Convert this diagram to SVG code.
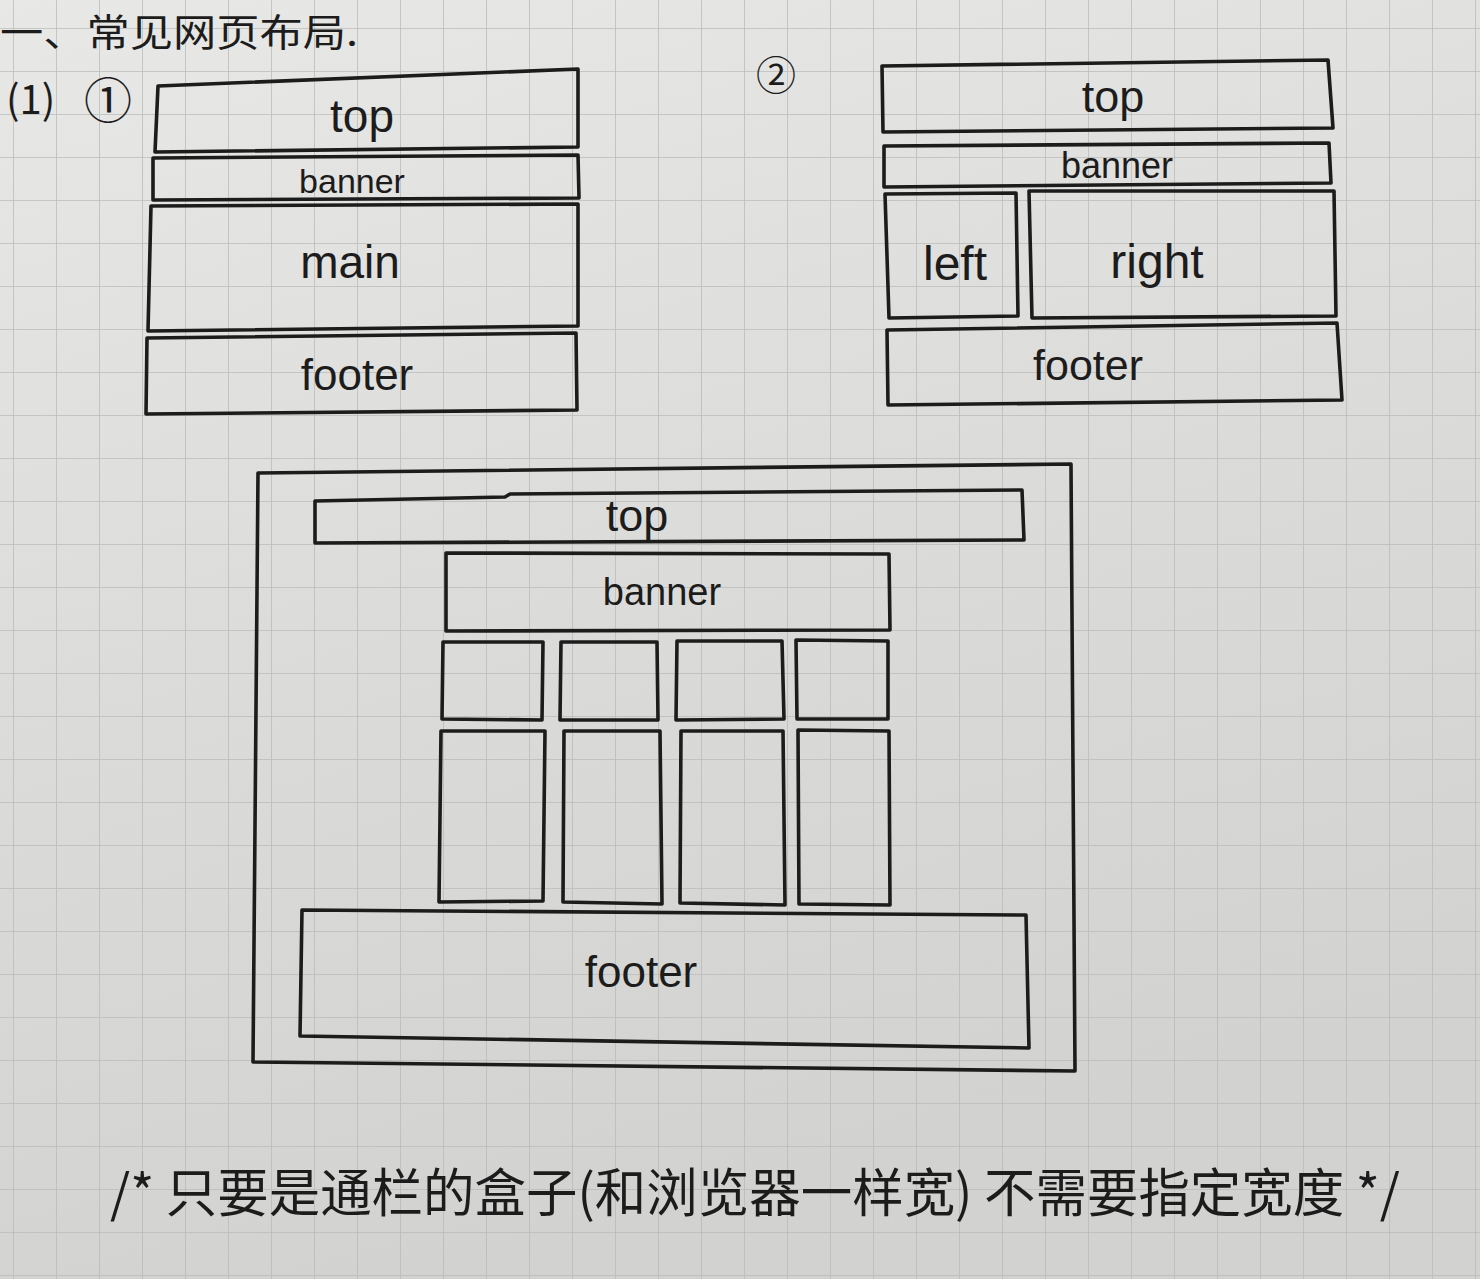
<svg xmlns="http://www.w3.org/2000/svg" width="1480" height="1279" viewBox="0 0 1480 1279">
<defs>
<linearGradient id="paper" x1="0" y1="0" x2="0.3" y2="1">
<stop offset="0" stop-color="#e8e8e6"/>
<stop offset="0.5" stop-color="#dcdcda"/>
<stop offset="1" stop-color="#d2d2d0"/>
</linearGradient>
<pattern id="grid" x="13" y="28" width="43" height="43" patternUnits="userSpaceOnUse">
<path d="M0,0 H43 M0,0 V43" fill="none" stroke="#b8b8b6" stroke-width="1.6"/>
</pattern>
</defs>
<style>
.box{fill:none;stroke:#1c1c1c;stroke-width:3.6;stroke-linejoin:round}
.lbl{font-family:"Liberation Sans","DejaVu Sans",sans-serif;fill:#1c1c1c;text-anchor:middle}
.cjk{font-family:"Noto Sans CJK SC","Liberation Sans",sans-serif;fill:#1c1c1c}
</style>
<rect width="1480" height="1279" fill="url(#paper)"/>
<rect width="1480" height="1279" fill="url(#grid)" opacity="0.9"/>

<text class="cjk" x="0" y="46" font-size="38" textLength="358" lengthAdjust="spacingAndGlyphs">一、常见网页布局.</text>
<text class="cjk" x="6" y="114" font-size="40">(1)</text>
<text class="cjk" x="84" y="118" font-size="48">①</text>
<text class="cjk" x="756" y="90" font-size="40">②</text>

<g id="layout1">
<g id="l1-top"><path class="box" d="M158,86 L578,69 L578,147 L155,152 Z"/><text class="lbl" x="362" y="132" font-size="46">top</text></g>
<g id="l1-banner"><path class="box" d="M153,158 L578,155 L579,198 L153,200 Z"/><text class="lbl" x="352" y="193" font-size="34">banner</text></g>
<g id="l1-main"><path class="box" d="M151,206 L578,204 L578,326 L148,331 Z"/><text class="lbl" x="350" y="278" font-size="46">main</text></g>
<g id="l1-footer"><path class="box" d="M147,338 L576,333 L577,410 L146,414 Z"/><text class="lbl" x="357" y="390" font-size="44">footer</text></g>
</g>

<g id="layout2">
<g id="l2-top"><path class="box" d="M882,66 L1328,60 L1333,128 L883,132 Z"/><text class="lbl" x="1113" y="112" font-size="45">top</text></g>
<g id="l2-banner"><path class="box" d="M884,146 L1329,143 L1331,183 L884,187 Z"/><text class="lbl" x="1117" y="178" font-size="36">banner</text></g>
<g id="l2-left"><path class="box" d="M885,194 L1016,193 L1018,316 L889,318 Z"/><text class="lbl" x="955" y="280" font-size="48">left</text></g>
<g id="l2-right"><path class="box" d="M1029,191 L1334,191 L1336,316 L1032,318 Z"/><text class="lbl" x="1157" y="278" font-size="48">right</text></g>
<g id="l2-footer"><path class="box" d="M887,330 L1337,323 L1342,400 L888,405 Z"/><text class="lbl" x="1088" y="380" font-size="43">footer</text></g>
</g>

<g id="layout3">
<g id="l3-outer"><path class="box" d="M258,473 L1071,464 L1075,1071 L253,1062 Z"/></g>
<g id="l3-top"><path class="box" d="M315,501 L505,497 L510,494 L1022,490 L1024,540 L315,543 Z"/><text class="lbl" x="637" y="531" font-size="45">top</text></g>
<g id="l3-banner"><path class="box" d="M446,553 L889,554 L890,630 L446,631 Z"/><text class="lbl" x="662" y="605" font-size="38">banner</text></g>
<g id="l3-b1"><path class="box" d="M443,642 L543,642 L542,720 L442,719 Z"/></g>
<g id="l3-b2"><path class="box" d="M561,642 L657,642 L658,720 L560,720 Z"/></g>
<g id="l3-b3"><path class="box" d="M677,641 L782,641 L784,719 L676,720 Z"/></g>
<g id="l3-b4"><path class="box" d="M796,640 L888,641 L888,719 L797,719 Z"/></g>
<g id="l3-c1"><path class="box" d="M441,731 L545,731 L543,901 L439,902 Z"/></g>
<g id="l3-c2"><path class="box" d="M564,731 L660,731 L662,904 L563,902 Z"/></g>
<g id="l3-c3"><path class="box" d="M681,731 L783,731 L785,905 L680,903 Z"/></g>
<g id="l3-c4"><path class="box" d="M798,730 L889,731 L890,905 L799,904 Z"/></g>
<g id="l3-footer"><path class="box" d="M302,910 L1026,915 L1029,1048 L300,1036 Z"/><text class="lbl" x="641" y="987" font-size="44">footer</text></g>
</g>

<g id="connectors"></g>

<text class="cjk" x="110" y="1212" font-size="52" textLength="1290" lengthAdjust="spacingAndGlyphs">/* 只要是通栏的盒子(和浏览器一样宽) 不需要指定宽度 */</text>
</svg>
